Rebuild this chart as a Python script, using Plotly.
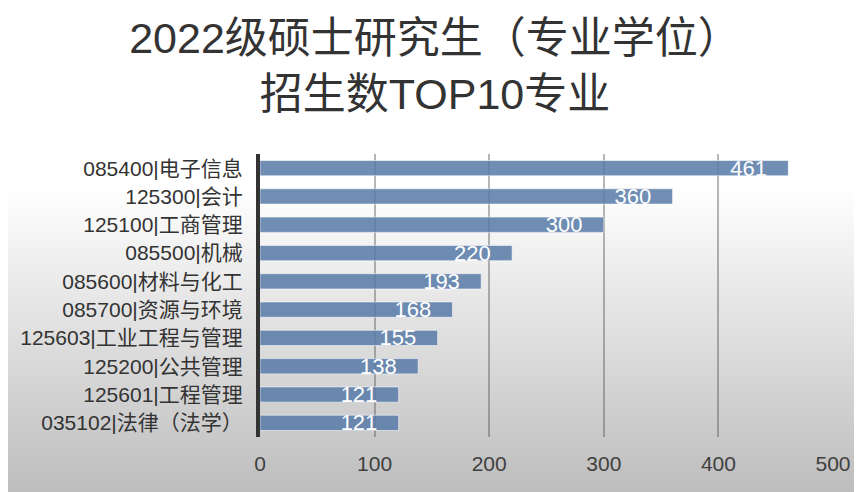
import base64
import plotly.graph_objects as go

# Data
majors = [
    '085400|电子信息',
    '125300|会计',
    '125100|工商管理',
    '085500|机械',
    '085600|材料与化工',
    '085700|资源与环境',
    '125603|工业工程与管理',
    '125200|公共管理',
    '125601|工程管理',
    '035102|法律（法学）',
]
students = [461, 360, 300, 220, 193, 168, 155, 138, 121, 121]
x_ticks = [0, 100, 200, 300, 400, 500]

# Figure / plot geometry (the page body adds an 8px margin on top/left)
OFF = 8
W, H = 862 - OFF, 492 - OFF
M_L, M_R, M_T, M_B = 260 - OFF, 29, 154 - OFF, 55
PW, PH = W - M_L - M_R, H - M_T - M_B

FONT = 'Liberation Sans, Arial, Noto Sans CJK SC, sans-serif'

# Background: white at the top fading to grey at the bottom
svg = (
    '<svg xmlns="http://www.w3.org/2000/svg" width="100" height="100" preserveAspectRatio="none">'
    '<defs><linearGradient id="g" x1="0" y1="0" x2="0" y2="1">'
    '<stop offset="0" stop-color="#ffffff"/>'
    '<stop offset="0.37" stop-color="#ffffff"/>'
    '<stop offset="1" stop-color="#bdbdbd"/>'
    '</linearGradient></defs>'
    '<rect width="100" height="100" fill="url(#g)"/></svg>'
)
bg_src = 'data:image/svg+xml;base64,' + base64.b64encode(svg.encode()).decode()

fig = go.Figure()
fig.add_trace(go.Bar(
    x=students,
    y=majors,
    orientation='h',
    marker=dict(color='rgba(88,124,168,0.86)', line=dict(color='rgba(255,255,255,0.55)', width=1)),
    texttemplate='%{x}\u00a0\u00a0\u00a0',
    textposition='inside',
    insidetextanchor='end',
    constraintext='none',
    textfont=dict(color='white', size=22, family=FONT),
    hoverinfo='x+y',
))

fig.add_layout_image(dict(
    source=bg_src,
    xref='paper', yref='paper',
    x=-M_L / PW, y=1 + M_T / PH,
    sizex=W / PW, sizey=H / PH,
    xanchor='left', yanchor='top',
    sizing='stretch', layer='below',
))

fig.update_layout(
    width=W, height=H,
    margin=dict(l=M_L, r=M_R, t=M_T, b=M_B),
    title=dict(
        text='2022级硕士研究生（专业学位）<br>招生数TOP10专业',
        x=0.5, xanchor='center', xref='container',
        y=0.906, yanchor='top', yref='container',
        font=dict(size=43, color='#333333', family=FONT),
    ),
    bargap=0.46,
    showlegend=False,
    paper_bgcolor='white',
    plot_bgcolor='rgba(0,0,0,0)',
    font=dict(family=FONT, color='#333333'),
)

fig.update_xaxes(
    range=[0, 500],
    tickvals=x_ticks,
    showgrid=True,
    gridcolor='rgba(80,80,80,0.42)',
    gridwidth=1.5,
    zeroline=False,
    showline=False,
    ticks='',
    ticklabelstandoff=12,
    tickfont=dict(size=21, color='#404040'),
    automargin=False,
)
fig.update_yaxes(
    autorange='reversed',
    showgrid=False,
    showline=True,
    linecolor='#333333',
    linewidth=4,
    ticks='',
    ticklabelstandoff=9,
    tickfont=dict(size=21, color='#333333'),
    automargin=False,
)

fig.write_html('out.html')
